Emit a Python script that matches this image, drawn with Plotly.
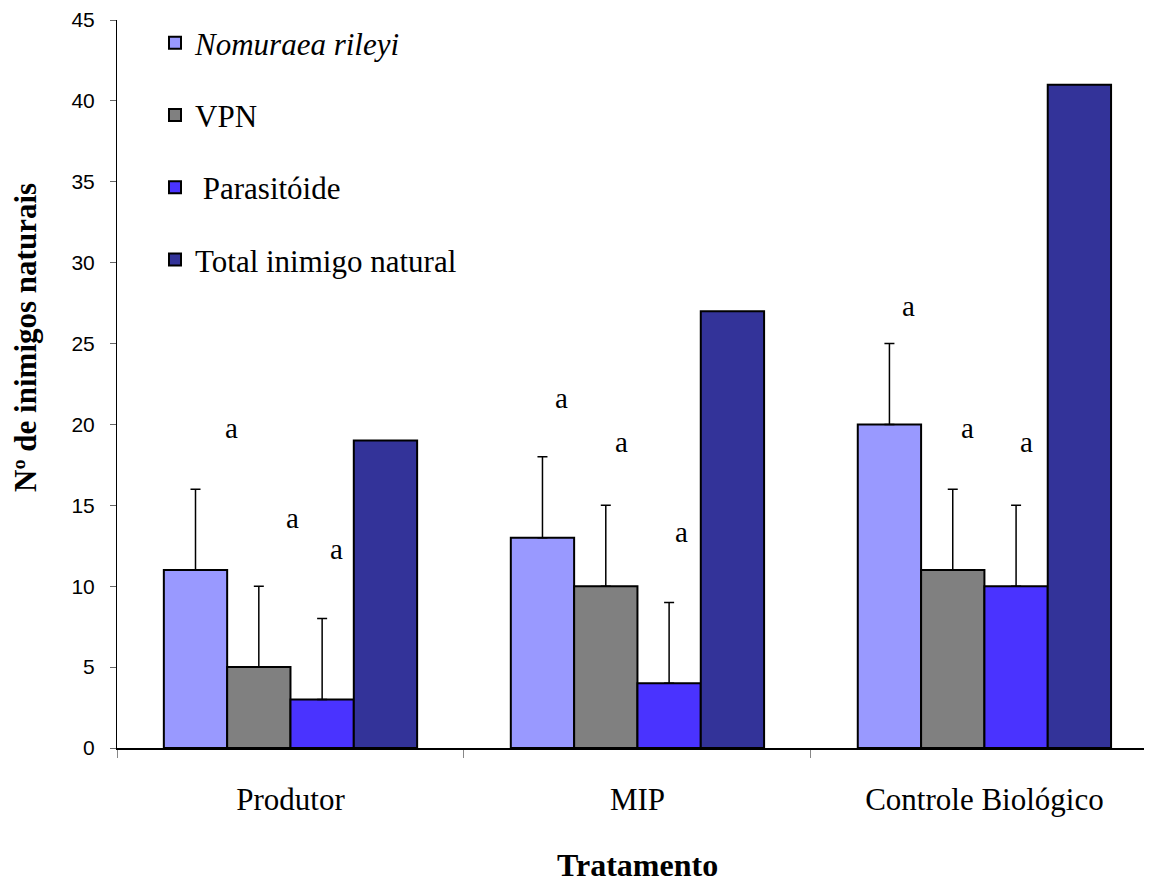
import plotly.graph_objects as go

categories = ["Produtor", "MIP", "Controle Biológico"]
legend_labels = ["<i>Nomuraea rileyi</i>", "VPN", " Parasitóide", "Total inimigo natural"]
nomuraea = [11, 13, 20]
vpn = [5, 10, 11]
parasitoide = [3, 4, 10]
total = [19, 27, 41]
err_nomuraea = [5, 5, 5]
err_vpn = [5, 5, 5]
err_parasitoide = [5, 5, 5]
colors = ["#9999FF", "#808080", "#4A33FF", "#333399"]

# significance letters: (category index position, y value)
letter_x = [-0.169, 0.007, 0.134, 0.782, 0.955, 1.128, 1.780, 1.952, 2.122]
letter_y = [19.65, 14.1, 12.2, 21.5, 18.8, 13.2, 27.2, 19.65, 18.8]
letters = ["a"] * 9

values = [nomuraea, vpn, parasitoide, total]
errors = [err_nomuraea, err_vpn, err_parasitoide, None]

fig = go.Figure()
for i in range(4):
    kw = {}
    if errors[i] is not None:
        kw["error_y"] = dict(type="data", symmetric=False, array=errors[i],
                             arrayminus=[0, 0, 0], color="black",
                             thickness=1.5, width=5)
    fig.add_trace(go.Bar(
        x=categories, y=values[i], name=legend_labels[i],
        marker=dict(color=colors[i], line=dict(color="black", width=2)),
        legendgroup=str(i), **kw))

for xv, yv, t in zip(letter_x, letter_y, letters):
    fig.add_annotation(x=xv, y=yv, xref="x", yref="y", text=t, showarrow=False,
                       yshift=2,
                       font=dict(family="Liberation Serif", size=29, color="black"))

# page has an 8px body margin; paper coords computed relative to plot area
fig.add_annotation(x=(25 - 117) / 1035, y=(748 - 338) / 728, xref="paper", yref="paper",
                   text="<b>Nº de inimigos naturais</b>", showarrow=False, textangle=-90,
                   xanchor="center", yanchor="middle",
                   font=dict(family="Liberation Serif", size=31, color="black"))

fig.add_annotation(x=(637 - 117) / 1035, y=(748 - 865) / 728, xref="paper", yref="paper",
                   text="<b>Tratamento</b>", showarrow=False, xanchor="center", yanchor="middle",
                   font=dict(family="Liberation Serif", size=32, color="black"))

fig.update_layout(
    width=1144, height=876,
    margin=dict(l=109, r=0, t=12, b=136),
    plot_bgcolor="white", paper_bgcolor="white",
    barmode="group", bargap=0.27, bargroupgap=0,
    showlegend=True,
    legend=dict(x=(155 - 117) / 1035, y=(748 - 16) / 728, xanchor="left", yanchor="top",
                font=dict(family="Liberation Serif", size=31, color="black"),
                tracegroupgap=29, bgcolor="rgba(0,0,0,0)", itemwidth=30),
    xaxis=dict(type="category", range=[-0.5, 2.483], showline=True, linecolor="black",
               linewidth=1.5, ticks="outside", tickson="boundaries", ticklen=8,
               tickcolor="#888888", showgrid=False, zeroline=False,
               tickfont=dict(family="Liberation Serif", size=31, color="black"),
               ticklabelstandoff=23),
    yaxis=dict(range=[0, 45], dtick=5, showline=True, linecolor="black", linewidth=1,
               ticks="outside", ticklen=6, tickcolor="#666666", showgrid=False,
               zeroline=False, ticklabelstandoff=11,
               tickfont=dict(family="Liberation Sans", size=21, color="black")),
)
fig.write_html("out.html")
